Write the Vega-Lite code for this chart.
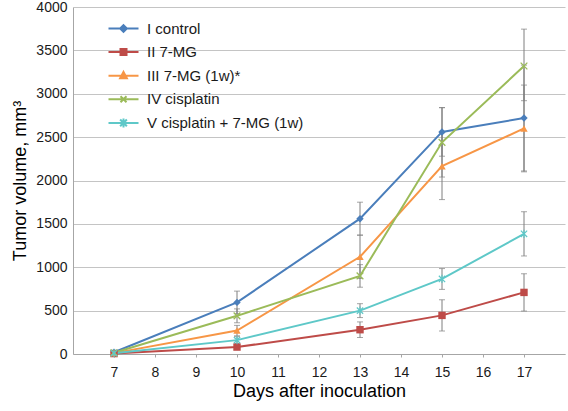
{
  "$schema": "https://vega.github.io/schema/vega-lite/v6.json",
  "width": 492,
  "height": 347,
  "autosize": "none",
  "padding": {"left": 73, "top": 7, "right": 3, "bottom": 57},
  "background": "white",
  "config": {
    "font": "Liberation Sans",
    "view": {"stroke": null},
    "axis": {
      "labelFont": "Liberation Sans",
      "titleFont": "Liberation Sans",
      "labelFontSize": 14,
      "labelColor": "#1a1a1a",
      "titleColor": "#000000",
      "titleFontSize": 18,
      "titleFontWeight": "normal",
      "domainColor": "#A6A6A6",
      "tickColor": "#A6A6A6",
      "gridColor": "#C4C4C4"
    },
    "point": {"filled": true, "size": 50, "strokeWidth": 1.2, "opacity": 1}
  },
  "data": {
    "values": [
      {"series": "I control", "day": 7, "vol": 20, "lo": null, "hi": null},
      {"series": "I control", "day": 10, "vol": 595, "lo": 465, "hi": 725},
      {"series": "I control", "day": 13, "vol": 1560, "lo": 1370, "hi": 1750},
      {"series": "I control", "day": 15, "vol": 2560, "lo": 2280, "hi": 2840},
      {"series": "I control", "day": 17, "vol": 2720, "lo": 2110, "hi": 3330},
      {"series": "II 7-MG", "day": 7, "vol": 5, "lo": null, "hi": null},
      {"series": "II 7-MG", "day": 10, "vol": 80, "lo": 50, "hi": 110},
      {"series": "II 7-MG", "day": 13, "vol": 280, "lo": 190, "hi": 370},
      {"series": "II 7-MG", "day": 15, "vol": 445, "lo": 265, "hi": 625},
      {"series": "II 7-MG", "day": 17, "vol": 710, "lo": 495, "hi": 925},
      {"series": "III 7-MG (1w)*", "day": 7, "vol": 10, "lo": null, "hi": null},
      {"series": "III 7-MG (1w)*", "day": 10, "vol": 270, "lo": 210, "hi": 330},
      {"series": "III 7-MG (1w)*", "day": 13, "vol": 1120, "lo": 870, "hi": 1370},
      {"series": "III 7-MG (1w)*", "day": 15, "vol": 2165, "lo": 1780, "hi": 2550},
      {"series": "III 7-MG (1w)*", "day": 17, "vol": 2600, "lo": 2100, "hi": 3100},
      {"series": "IV cisplatin", "day": 7, "vol": 15, "lo": null, "hi": null},
      {"series": "IV cisplatin", "day": 10, "vol": 440, "lo": 360, "hi": 520},
      {"series": "IV cisplatin", "day": 13, "vol": 900, "lo": 770, "hi": 1030},
      {"series": "IV cisplatin", "day": 15, "vol": 2440, "lo": 2040, "hi": 2840},
      {"series": "IV cisplatin", "day": 17, "vol": 3320, "lo": 2920, "hi": 3745},
      {"series": "V cisplatin + 7-MG (1w)", "day": 7, "vol": 10, "lo": null, "hi": null},
      {"series": "V cisplatin + 7-MG (1w)", "day": 10, "vol": 160, "lo": 120, "hi": 200},
      {"series": "V cisplatin + 7-MG (1w)", "day": 13, "vol": 500, "lo": 420, "hi": 580},
      {"series": "V cisplatin + 7-MG (1w)", "day": 15, "vol": 865, "lo": 745, "hi": 985},
      {"series": "V cisplatin + 7-MG (1w)", "day": 17, "vol": 1385, "lo": 1130, "hi": 1640}
    ]
  },
  "encoding": {
    "x": {
      "field": "day",
      "type": "quantitative",
      "scale": {"domain": [6, 18], "nice": false, "zero": false},
      "axis": {
        "title": "Days after inoculation",
        "values": [7, 8, 9, 10, 11, 12, 13, 14, 15, 16, 17],
        "grid": false,
        "tickSize": 3,
        "labelPadding": 8,
        "titlePadding": 3
      }
    }
  },
  "layer": [
    {
      "transform": [{"filter": "datum.lo != null"}],
      "mark": {
        "type": "errorbar",
        "ticks": {"size": 6, "color": "#7F7F7F", "strokeWidth": 1},
        "rule": {"color": "#7F7F7F", "strokeWidth": 1}
      },
      "encoding": {
        "y": {
          "field": "lo",
          "type": "quantitative",
          "title": "Tumor volume, mm³",
          "scale": {"domain": [0, 4000], "nice": false}
        },
        "y2": {"field": "hi"}
      }
    },
    {
      "mark": {"type": "line", "strokeWidth": 2},
      "encoding": {
        "y": {
          "field": "vol",
          "type": "quantitative",
          "title": "Tumor volume, mm³",
          "scale": {"domain": [0, 4000], "nice": false},
          "axis": {
            "title": "Tumor volume, mm³",
            "format": "d",
            "values": [0, 500, 1000, 1500, 2000, 2500, 3000, 3500, 4000],
            "tickSize": 0,
            "labelPadding": 6,
            "titlePadding": 6
          }
        },
        "color": {
          "field": "series",
          "type": "nominal",
          "scale": {
            "domain": ["I control", "II 7-MG", "III 7-MG (1w)*", "IV cisplatin", "V cisplatin + 7-MG (1w)"],
            "range": ["#4A7EBB", "#BE4B48", "#F79646", "#9BBB59", "#5EC8C8"]
          },
          "legend": {
            "orient": "none",
            "legendX": 42,
            "legendY": 13,
            "title": null,
            "padding": 0,
            "labelFont": "Liberation Sans",
            "labelFontSize": 15,
            "labelColor": "#1a1a1a",
            "symbolSize": 225,
            "symbolType": {"signal": "datum.value === 'I control' ? 'M-2,0H2M0,-0.45L0.45,0L0,0.45L-0.45,0Z' : datum.value === 'II 7-MG' ? 'M-2,0H2M-0.4,-0.4H0.4V0.4H-0.4Z' : datum.value === 'III 7-MG (1w)*' ? 'M-2,0H2M0,-0.5L0.45,0.35L-0.45,0.35Z' : datum.value === 'IV cisplatin' ? 'M-2,0H2M-0.4,-0.4L0.4,0.4M-0.4,0.4L0.4,-0.4' : 'M-2,0H2M-0.45,-0.45L0.45,0.45M-0.45,0.45L0.45,-0.45M0,-0.6V0.6'"},
            "symbolFillColor": {"signal": "scale('color', datum.value)"},
            "symbolStrokeWidth": 2,
            "labelOffset": 15,
            "gridAlign": "all",
            "rowPadding": 6.6
          }
        }
      }
    },
    {
      "transform": [{"filter": "datum.series === 'I control'"}],
      "mark": {"type": "point", "shape": "diamond", "color": "#4A7EBB", "size": 55},
      "encoding": {"y": {"field": "vol", "type": "quantitative", "title": "Tumor volume, mm³"}}
    },
    {
      "transform": [{"filter": "datum.series === 'II 7-MG'"}],
      "mark": {"type": "point", "shape": "square", "color": "#BE4B48", "size": 55},
      "encoding": {"y": {"field": "vol", "type": "quantitative", "title": "Tumor volume, mm³"}}
    },
    {
      "transform": [{"filter": "datum.series === 'III 7-MG (1w)*'"}],
      "mark": {"type": "point", "shape": "triangle-up", "color": "#F79646", "size": 55},
      "encoding": {"y": {"field": "vol", "type": "quantitative", "title": "Tumor volume, mm³"}}
    },
    {
      "transform": [{"filter": "datum.series === 'IV cisplatin'"}],
      "mark": {"type": "point", "shape": "M-1,-1L1,1M-1,1L1,-1", "filled": false, "stroke": "#9BBB59", "strokeWidth": 1.3, "size": 45},
      "encoding": {"y": {"field": "vol", "type": "quantitative", "title": "Tumor volume, mm³"}}
    },
    {
      "transform": [{"filter": "datum.series === 'V cisplatin + 7-MG (1w)'"}],
      "mark": {"type": "point", "shape": "M-1,-1L1,1M-1,1L1,-1M0,-1.3V1.3", "filled": false, "stroke": "#5EC8C8", "strokeWidth": 1.2, "size": 40},
      "encoding": {"y": {"field": "vol", "type": "quantitative", "title": "Tumor volume, mm³"}}
    }
  ]
}
